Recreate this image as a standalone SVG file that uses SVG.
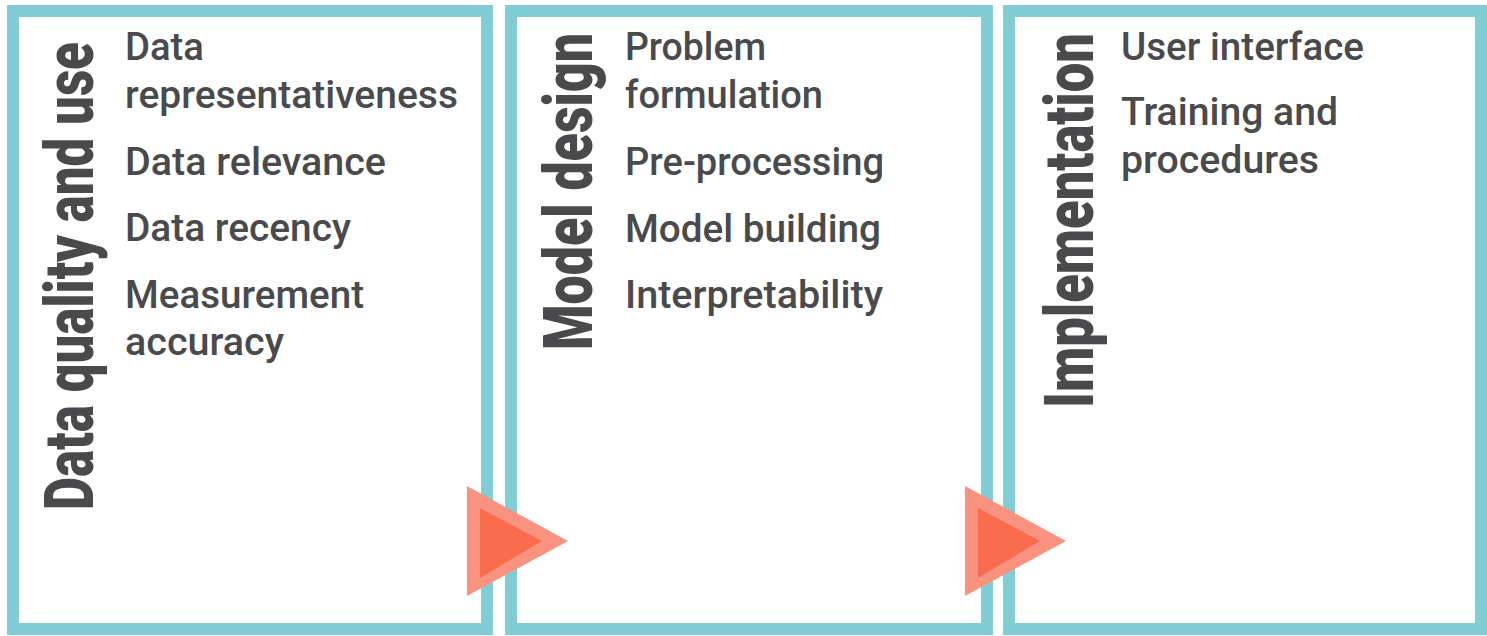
<svg xmlns="http://www.w3.org/2000/svg" width="1487" height="636" viewBox="0 0 1487 636">
  <style>
    .frame { fill: #ffffff; stroke: #80cdd5; stroke-width: 12; }
    .title { font-family: Roboto, "Liberation Sans", sans-serif; font-weight: 900; font-size: 68px; fill: #4a4a4c; }
    .item { font-family: Roboto, "Liberation Sans", sans-serif; font-weight: 500; font-size: 38px; fill: #4a4a4c; }
    .arrow-outer { fill: #f9937f; }
    .arrow-inner { fill: #fb6b4e; }
  </style>
  <rect width="1487" height="636" fill="#ffffff"/>

  <!-- Stage 1 -->
  <g id="data-quality">
    <rect class="frame" x="13" y="11" width="474" height="618"/>
    <text class="title" transform="translate(93,510) rotate(-90)" textLength="468" lengthAdjust="spacingAndGlyphs">Data quality and use</text>
    <text class="item" x="125" y="60" textLength="79" lengthAdjust="spacingAndGlyphs">Data</text>
    <text class="item" x="125" y="108" textLength="333" lengthAdjust="spacingAndGlyphs">representativeness</text>
    <text class="item" x="125" y="175" textLength="261" lengthAdjust="spacingAndGlyphs">Data relevance</text>
    <text class="item" x="125" y="241" textLength="226" lengthAdjust="spacingAndGlyphs">Data recency</text>
    <text class="item" x="125" y="308" textLength="239" lengthAdjust="spacingAndGlyphs">Measurement</text>
    <text class="item" x="125" y="355" textLength="159" lengthAdjust="spacingAndGlyphs">accuracy</text>
  </g>

  <!-- Stage 2 -->
  <g id="model-design">
    <rect class="frame" x="511" y="11" width="476" height="618"/>
    <text class="title" transform="translate(592,350) rotate(-90)" textLength="317" lengthAdjust="spacingAndGlyphs">Model design</text>
    <text class="item" x="625" y="60" textLength="141" lengthAdjust="spacingAndGlyphs">Problem</text>
    <text class="item" x="625" y="108" textLength="198" lengthAdjust="spacingAndGlyphs">formulation</text>
    <text class="item" x="625" y="175" textLength="259" lengthAdjust="spacingAndGlyphs">Pre-processing</text>
    <text class="item" x="625" y="242" textLength="256" lengthAdjust="spacingAndGlyphs">Model building</text>
    <text class="item" x="625" y="308" textLength="258" lengthAdjust="spacingAndGlyphs">Interpretability</text>
  </g>

  <!-- Stage 3 -->
  <g id="implementation">
    <rect class="frame" x="1009" y="11" width="472" height="618"/>
    <text class="title" transform="translate(1093,408) rotate(-90)" textLength="375" lengthAdjust="spacingAndGlyphs">Implementation</text>
    <text class="item" x="1121" y="60" textLength="243" lengthAdjust="spacingAndGlyphs">User interface</text>
    <text class="item" x="1121" y="125" textLength="217" lengthAdjust="spacingAndGlyphs">Training and</text>
    <text class="item" x="1121" y="173" textLength="198" lengthAdjust="spacingAndGlyphs">procedures</text>
  </g>

  <!-- Flow arrows between stages -->
  <g id="connectors">
    <g id="arrow-1">
      <polygon class="arrow-outer" points="467,486 568,541 467,596"/>
      <polygon class="arrow-inner" points="480,508 542,541 480,578"/>
    </g>
    <g id="arrow-2">
      <polygon class="arrow-outer" points="965,486 1066,541 965,596"/>
      <polygon class="arrow-inner" points="978,508 1040,541 978,578"/>
    </g>
  </g>
</svg>
